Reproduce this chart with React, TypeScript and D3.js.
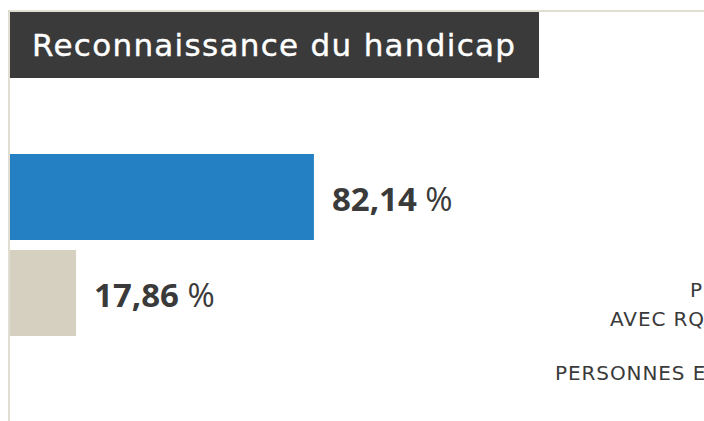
import React from 'react';
import * as d3 from 'd3';

const categories = ['Personnes avec RQTH', 'Personnes en attente'];
const values = [82.14, 17.86];
const barColors = ['#2580c3', '#d6d0c0'];
const valueLabels = ['82,14', '17,86'];
const title = 'Reconnaissance du handicap';
// category labels on the right, clipped by the page edge like in the original
const sideLabels = [
  { text: 'PERSONNES', x: 690, y: 297 },
  { text: 'AVEC RQTH', x: 610, y: 326 },
  { text: 'PERSONNES EN ATTENTE', x: 555, y: 380 },
];

const W = 704;
const H = 421;
const numFont = "'Open Sans', 'DejaVu Sans', sans-serif";
const wideFont = "'DejaVu Sans', 'Open Sans', sans-serif";
const ink = '#3a3a3a';

export default function App() {
  const x = d3.scaleLinear().domain([0, 100]).range([10, 380]);
  const y = d3.scaleBand<string>()
    .domain(categories)
    .range([154, 336])
    .paddingInner(10 / 96)
    .paddingOuter(0);

  return (
    <svg width={W} height={H} style={{ position: 'fixed', left: 0, top: 0, overflow: 'hidden' }}>
      <rect width={W} height={H} fill="#fff" />
      {/* card border */}
      <line x1={8} x2={W} y1={11} y2={11} stroke="#d6d2c4" strokeWidth={1.5} />
      <line x1={9} x2={9} y1={11} y2={H} stroke="#d6d2c4" strokeWidth={1.5} />

      {/* title */}
      <rect x={10} y={12} width={529} height={66} fill="#3a3a3a" />
      <text x={32} y={56} fill="#fff" fontFamily={wideFont} fontSize={31} letterSpacing={1.3}
        stroke="#fff" strokeWidth={0.4}>{title}</text>

      {/* bars */}
      {categories.map((c, i) => (
        <g key={c}>
          <rect x={x(0)} y={y(c)} width={x(values[i]) - x(0)} height={y.bandwidth()} fill={barColors[i]} />
          <text x={x(values[i]) + 18} y={(y(c) ?? 0) + y.bandwidth() / 2 + 14}
            fill={ink} fontFamily={numFont} fontSize={33}>
            <tspan fontWeight={700}>{valueLabels[i]}</tspan>
            <tspan fontWeight={500}> %</tspan>
          </text>
        </g>
      ))}

      {sideLabels.map(l => (
        <text key={l.text} x={l.x} y={l.y} fill={ink} fontFamily={wideFont} fontSize={20}
          letterSpacing={0.9}>{l.text}</text>
      ))}
    </svg>
  );
}
